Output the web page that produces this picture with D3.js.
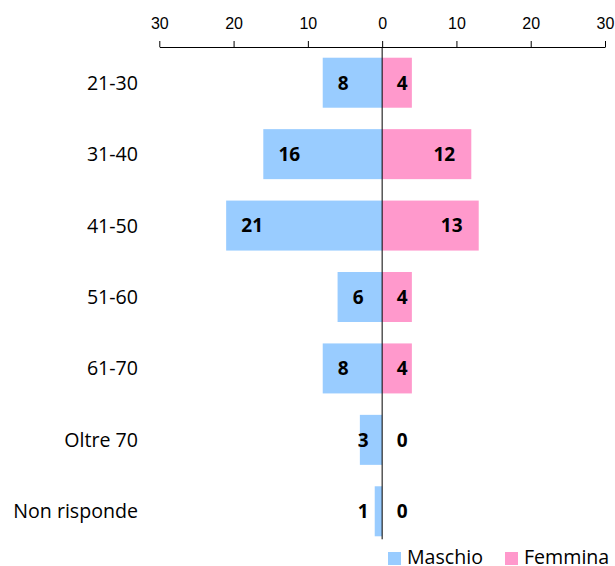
<!DOCTYPE html>
<html>
<head>
<meta charset="utf-8">
<script src="https://cdn.jsdelivr.net/npm/d3@7"></script>
<style>
  body { margin: 0; background: #fff; }
  svg { font-family: "Open Sans", sans-serif; }
  .axis path, .axis line { stroke: #000; }
  .axis text { font-size: 16px; fill: #000; }
</style>
</head>
<body>
<svg id="chart"></svg>
<script>
// Age groups and counts per sex
const categories = ["21-30", "31-40", "41-50", "51-60", "61-70", "Oltre 70", "Non risponde"];
const maschio = [8, 16, 21, 6, 8, 3, 1];
const femmina = [4, 12, 13, 4, 4, 0, 0];
const tickValues = [-30, -20, -10, 0, 10, 20, 30];
const seriesNames = ["Maschio", "Femmina"];
const colors = ["#99CCFF", "#FF99CC"];

const W = 615, H = 566;
const svg = d3.select("#chart").attr("width", W).attr("height", H);

// Scales
const x = d3.scaleLinear().domain([-30, 30]).range([159.3, 605]);
const y = d3.scaleBand()
  .domain(categories)
  .range([47, 547])
  .paddingInner(0.3)
  .paddingOuter(0.15);

// Top axis
const xAxis = d3.axisTop(x)
  .tickValues(tickValues)
  .tickFormat(d => Math.abs(d))
  .tickSize(6)
  .tickSizeOuter(0)
  .tickPadding(12);

svg.append("g")
  .attr("class", "axis")
  .attr("transform", `translate(0, ${y.range()[0]})`)
  .call(xAxis);

// Bars
const rows = categories.map((c, i) => ({ cat: c, m: maschio[i], f: femmina[i] }));

svg.append("g").selectAll("rect")
  .data(rows)
  .join("rect")
  .attr("x", d => x(-d.m))
  .attr("y", d => y(d.cat))
  .attr("width", d => x(0) - x(-d.m))
  .attr("height", y.bandwidth())
  .attr("fill", colors[0]);

svg.append("g").selectAll("rect")
  .data(rows)
  .join("rect")
  .attr("x", x(0))
  .attr("y", d => y(d.cat))
  .attr("width", d => x(d.f) - x(0))
  .attr("height", y.bandwidth())
  .attr("fill", colors[1]);

// Zero line
svg.append("line")
  .attr("x1", x(0)).attr("x2", x(0))
  .attr("y1", y.range()[0])
  .attr("y2", y(categories[categories.length - 1]) + y.bandwidth() + 3)
  .attr("stroke", "#000");

// Value labels
const labelW = v => String(v).length * 11;

svg.append("g").selectAll("text")
  .data(rows)
  .join("text")
  .attr("x", d => Math.min(x(-d.m) + 15 + labelW(d.m) / 2, x(0) - 19))
  .attr("y", d => y(d.cat) + y.bandwidth() / 2)
  .attr("dy", "0.36em")
  .attr("text-anchor", "middle")
  .attr("font-size", "19px")
  .attr("font-weight", "bold")
  .text(d => d.m);

svg.append("g").selectAll("text")
  .data(rows)
  .join("text")
  .attr("x", d => Math.max(x(d.f) - 16 - labelW(d.f) / 2, x(0) + 20))
  .attr("y", d => y(d.cat) + y.bandwidth() / 2)
  .attr("dy", "0.36em")
  .attr("text-anchor", "middle")
  .attr("font-size", "19px")
  .attr("font-weight", "bold")
  .text(d => d.f);

// Category labels
svg.append("g").selectAll("text")
  .data(categories)
  .join("text")
  .attr("x", 138)
  .attr("y", d => y(d) + y.bandwidth() / 2)
  .attr("dy", "0.36em")
  .attr("text-anchor", "end")
  .attr("font-size", "19.6px")
  .text(d => d);

// Legend
const legend = svg.append("g").attr("transform", "translate(388, 551)");
const legendX = [0, 117];

legend.selectAll("rect")
  .data(seriesNames)
  .join("rect")
  .attr("x", (d, i) => legendX[i])
  .attr("y", 1)
  .attr("width", 13)
  .attr("height", 13)
  .attr("fill", (d, i) => colors[i]);

legend.selectAll("text")
  .data(seriesNames)
  .join("text")
  .attr("x", (d, i) => legendX[i] + 19)
  .attr("y", 13)
  .attr("font-size", "19.6px")
  .text(d => d);
</script>
</body>
</html>
